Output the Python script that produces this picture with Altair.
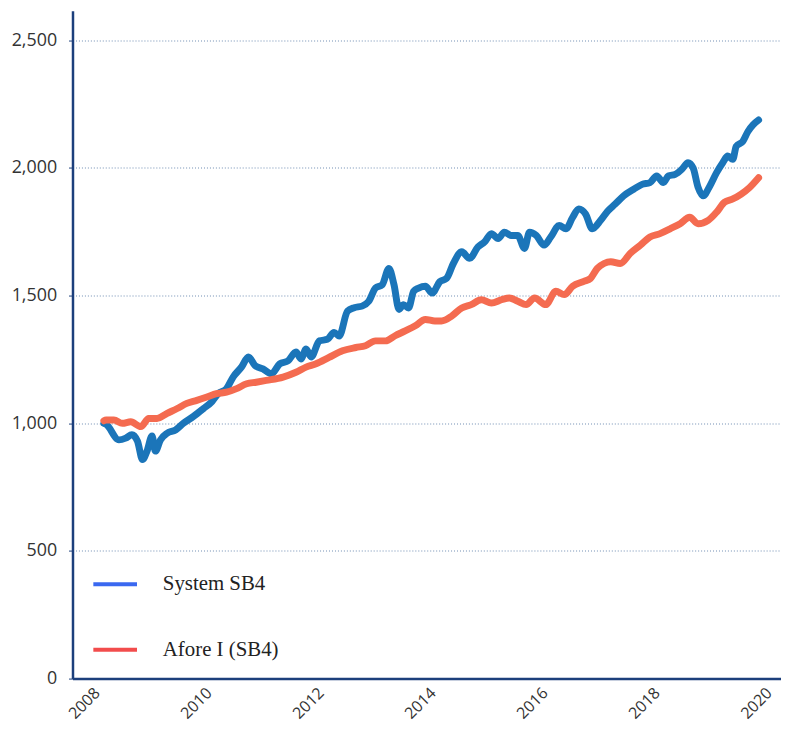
import altair as alt
import pandas as pd

# ---- data ----
blue_years = [2008.10, 2008.14, 2008.37, 2008.49, 2008.60, 2008.70, 2008.79, 2008.87, 2008.96, 2009.02,
              2009.11, 2009.23, 2009.38, 2009.52, 2009.70, 2009.88, 2010.03, 2010.14, 2010.29, 2010.41,
              2010.56, 2010.68, 2010.80, 2010.94, 2011.09, 2011.24, 2011.39, 2011.53, 2011.62, 2011.71,
              2011.80, 2011.95, 2012.09, 2012.21, 2012.30, 2012.45, 2012.57, 2012.71, 2012.83, 2012.95,
              2013.07, 2013.19, 2013.28, 2013.37, 2013.45, 2013.54, 2013.63, 2013.72, 2013.84, 2013.96,
              2014.10, 2014.22, 2014.34, 2014.49, 2014.63, 2014.78, 2014.90, 2015.02, 2015.14, 2015.25,
              2015.37, 2015.49, 2015.61, 2015.70, 2015.82, 2015.96, 2016.08, 2016.23, 2016.35, 2016.47,
              2016.58, 2016.70, 2016.82, 2016.97, 2017.09, 2017.23, 2017.38, 2017.56, 2017.71, 2017.85,
              2017.97, 2018.09, 2018.18, 2018.30, 2018.42, 2018.53, 2018.62, 2018.71, 2018.80, 2018.92,
              2019.04, 2019.15, 2019.24, 2019.33, 2019.39, 2019.51, 2019.60, 2019.69, 2019.79]
blue_values = [1000, 996, 935, 942, 955, 930, 858, 891, 950, 891,
               935, 961, 974, 1000, 1027, 1058, 1085, 1116, 1136, 1182,
               1221, 1260, 1226, 1213, 1194, 1233, 1245, 1279, 1252, 1291,
               1260, 1323, 1329, 1356, 1342, 1439, 1453, 1459, 1478, 1530,
               1543, 1607, 1543, 1446, 1465, 1452, 1517, 1530, 1537, 1510,
               1555, 1568, 1626, 1672, 1646, 1691, 1711, 1743, 1724, 1749,
               1736, 1736, 1685, 1749, 1736, 1698, 1730, 1775, 1762, 1807,
               1840, 1820, 1762, 1795, 1830, 1859, 1891, 1917, 1936, 1943,
               1969, 1943, 1969, 1975, 1995, 2021, 2001, 1924, 1891, 1930,
               1982, 2021, 2047, 2034, 2085, 2105, 2143, 2169, 2188]

red_years = [2008.10, 2008.14, 2008.28, 2008.43, 2008.58, 2008.76, 2008.90, 2009.05, 2009.23, 2009.41,
             2009.58, 2009.76, 2009.94, 2010.11, 2010.29, 2010.47, 2010.65, 2010.82, 2011.00, 2011.30,
             2011.53, 2011.71, 2011.89, 2012.12, 2012.36, 2012.60, 2012.77, 2012.95, 2013.13, 2013.30,
             2013.48, 2013.66, 2013.84, 2014.01, 2014.13, 2014.31, 2014.49, 2014.66, 2014.84, 2015.02,
             2015.20, 2015.34, 2015.49, 2015.64, 2015.79, 2015.99, 2016.17, 2016.32, 2016.47, 2016.67,
             2016.79, 2016.91, 2017.03, 2017.15, 2017.32, 2017.50, 2017.68, 2017.85, 2018.03, 2018.21,
             2018.39, 2018.56, 2018.71, 2018.89, 2019.04, 2019.18, 2019.33, 2019.48, 2019.63, 2019.79]
red_values = [1010, 1013, 1013, 1000, 1006, 987, 1019, 1019, 1039, 1058,
              1078, 1090, 1103, 1116, 1122, 1136, 1155, 1161, 1168, 1181,
              1200, 1220, 1233, 1258, 1284, 1297, 1304, 1323, 1323, 1343,
              1362, 1382, 1407, 1401, 1401, 1420, 1452, 1465, 1484, 1471,
              1484, 1491, 1478, 1465, 1491, 1465, 1517, 1504, 1537, 1556,
              1568, 1607, 1626, 1633, 1626, 1666, 1698, 1730, 1743, 1762,
              1782, 1807, 1782, 1795, 1827, 1866, 1879, 1898, 1924, 1962]

series_names = ["System SB4", "Afore I (SB4)"]
x_ticks = [2008, 2010, 2012, 2014, 2016, 2018, 2020]
y_ticks = [0, 500, 1000, 1500, 2000, 2500]

line_colors = ["#1b75b9", "#f46b50"]
legend_colors = ["#3a68f0", "#f24c4c"]

df_blue = pd.DataFrame({"year": blue_years, "value": blue_values, "series": series_names[0]})
df_red = pd.DataFrame({"year": red_years, "value": red_values, "series": series_names[1]})
df_all = pd.concat([df_blue, df_red], ignore_index=True)

navy = "#1c3f7c"

x_enc = alt.X("year:Q",
              scale=alt.Scale(domain=[2007.54, 2020.19], nice=False, zero=False),
              axis=alt.Axis(values=x_ticks, format="d", title=None, grid=False,
                            labelAngle=315, labelFont="Open Sans", labelFontSize=16,
                            labelColor="#333333", labelPadding=6, labelOffset=-7,
                            ticks=False, domainColor=navy, domainWidth=2.5))
y_enc = alt.Y("value:Q",
              scale=alt.Scale(domain=[0, 2616], nice=False),
              axis=alt.Axis(values=y_ticks, format=",d", title=None, grid=True,
                            gridColor="#9fb3cc", gridDash=[1, 2], gridWidth=1.5,
                            labelFont="Open Sans", labelFontSize=18, labelColor="#333333",
                            labelPadding=12, ticks=True, tickSize=4, tickColor=navy,
                            domainColor=navy, domainWidth=2.5))

color_lines = alt.Color("series:N", scale=alt.Scale(domain=series_names, range=line_colors),
                        legend=None)

blue_line = alt.Chart(df_blue).mark_line(strokeWidth=7, strokeCap="round", strokeJoin="round",
                                         interpolate="monotone").encode(
    x=x_enc, y=y_enc, color=color_lines)
red_line = alt.Chart(df_red).mark_line(strokeWidth=7, strokeCap="round", strokeJoin="round",
                                       interpolate="monotone").encode(
    x=x_enc, y=y_enc, color=color_lines)

legend_layer = alt.Chart(df_all).mark_line(strokeWidth=4).encode(
    x=x_enc, y=y_enc,
    color=alt.Color("series:N",
                    scale=alt.Scale(domain=series_names, range=legend_colors),
                    legend=alt.Legend(orient="none", legendX=19, legendY=554, title=None,
                                      symbolType="stroke", symbolSize=1936, symbolStrokeWidth=4,
                                      labelFont="Liberation Serif", labelFontSize=21,
                                      labelColor="#222222", labelOffset=24, rowPadding=32,
                                      padding=0))
).transform_filter("datum.value < 0")

chart = alt.layer(blue_line, red_line, legend_layer).resolve_scale(
    color="independent"
).properties(
    width=714, height=673,
    padding={"left": 65, "top": 0, "right": 0, "bottom": 47},
    autosize=alt.AutoSizeParams(type="none"),
).configure_view(stroke=None)

chart.save("out.html", embed_options={"renderer": "svg", "actions": False})
